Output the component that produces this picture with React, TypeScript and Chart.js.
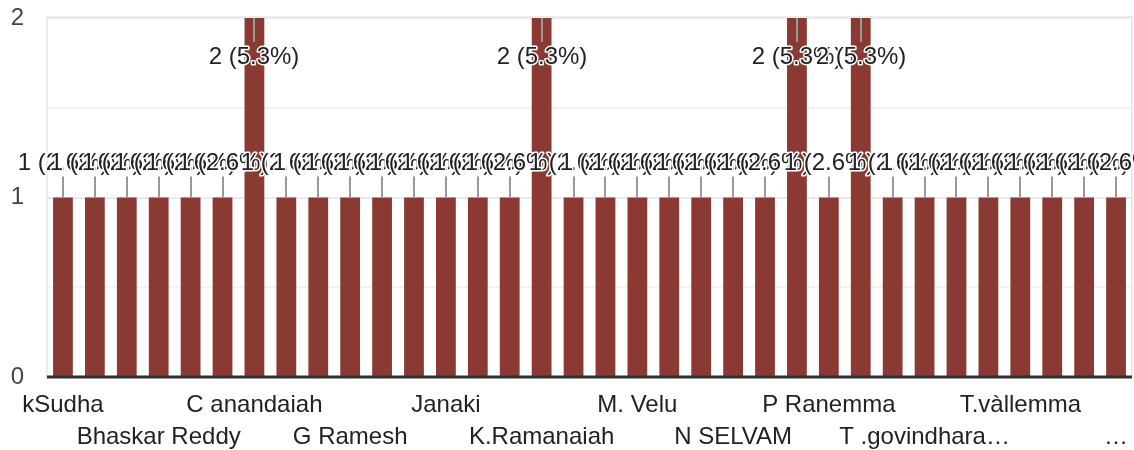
import React, { useEffect, useRef } from "react";
import { Chart, registerables } from "chart.js";

Chart.register(...registerables);

const categories: string[] = [
  "kSudha", "Anitha", "B. Lakshmi", "Bhaskar Reddy", "Bujjamma", "C Murali",
  "C anandaiah", "D Mani", "Devi", "G Ramesh", "Gowri", "Indira",
  "Janaki", "K Prasad", "K. Suresh", "K.Ramanaiah", "Lakshmamma", "M Ravi",
  "M. Velu", "Meena", "Munirathnam", "N SELVAM", "Nagaraju", "P Lalitha",
  "P Ranemma", "R Kumar", "S Padma", "T .govindhara…", "T Saroja", "T.Muni",
  "T.vàllemma", "V Ramana", "Vijaya", "…",
];

const values: number[] = [
  1, 1, 1, 1, 1, 1,
  2, 1, 1, 1, 1, 1,
  1, 1, 1, 2, 1, 1,
  1, 1, 1, 1, 1, 2,
  1, 2, 1, 1, 1, 1,
  1, 1, 1, 1,
];

const yTickValues: number[] = [0, 1, 2];

const BAR_COLOR = "#8a3a33";
const FONT = '"Liberation Sans", Arial, sans-serif';

const decorPlugin = {
  id: "decor",
  beforeDatasetsDraw(chart: any) {
    const { ctx, chartArea } = chart;
    ctx.save();
    ctx.strokeStyle = "#ebebeb";
    ctx.lineWidth = 2;
    ctx.strokeRect(chartArea.left, chartArea.top - 1, chartArea.right - chartArea.left, chartArea.bottom - chartArea.top + 1);
    ctx.restore();
  },
  afterDatasetsDraw(chart: any) {
    const { ctx, chartArea } = chart;
    const total = values.reduce((a, b) => a + b, 0);
    const meta = chart.getDatasetMeta(0);
    ctx.save();
    ctx.strokeStyle = "#333333";
    ctx.lineWidth = 3;
    ctx.beginPath();
    ctx.moveTo(chartArea.left, chartArea.bottom);
    ctx.lineTo(chartArea.right, chartArea.bottom);
    ctx.stroke();

    ctx.font = `24px ${FONT}`;
    ctx.textAlign = "center";
    ctx.textBaseline = "middle";
    ctx.lineJoin = "round";
    meta.data.forEach((bar: any, i: number) => {
      const v = values[i];
      const text = `${v} (${((v / total) * 100).toFixed(1)}%)`;
      const x = Math.round(bar.x);
      const top = bar.y;
      let stemEnd: number;
      let labelY: number;
      if (top - 45 < chartArea.top) {
        stemEnd = top + 24;
        labelY = top + 39;
      } else {
        stemEnd = top - 21;
        labelY = top - 34;
      }
      ctx.strokeStyle = "#999999";
      ctx.lineWidth = 2;
      ctx.beginPath();
      ctx.moveTo(x, top);
      ctx.lineTo(x, stemEnd);
      ctx.stroke();

      ctx.strokeStyle = "#ffffff";
      ctx.lineWidth = 3;
      ctx.strokeText(text, x, labelY);
      ctx.fillStyle = "#222222";
      ctx.fillText(text, x, labelY);
    });
    ctx.restore();
  },
};

export default function App() {
  const canvasRef = useRef<HTMLCanvasElement | null>(null);

  useEffect(() => {
    document.body.style.margin = "0";
    const canvas = canvasRef.current;
    if (!canvas) return;
    const chart = new Chart(canvas, {
      type: "bar",
      data: {
        labels: categories,
        datasets: [
          {
            data: values,
            backgroundColor: BAR_COLOR,
            borderWidth: 0,
            barPercentage: 0.62,
            categoryPercentage: 1,
          },
        ],
      },
      options: {
        animation: false,
        responsive: true,
        maintainAspectRatio: false,
        layout: { padding: { top: 18, right: 2, left: 0, bottom: 0 } },
        plugins: {
          legend: { display: false },
          tooltip: { enabled: false },
        },
        scales: {
          x: {
            grid: { display: false, drawTicks: false },
            border: { display: false },
            ticks: {
              autoSkip: false,
              maxRotation: 0,
              minRotation: 0,
              padding: 12,
              color: "#222222",
              font: { family: FONT, size: 24, lineHeight: 1.333 },
              callback: (_v: any, i: number) => {
                if (i % 3 !== 0) return "";
                const row = (i / 3) % 2;
                return row === 0 ? categories[i] : ["", categories[i]];
              },
            },
            afterFit: (scale: any) => {
              scale.height = 73;
              scale.paddingLeft = 0;
              scale.paddingRight = 0;
              scale.paddingTop = 0;
              scale.paddingBottom = 0;
            },
          },
          y: {
            min: 0,
            max: 2,
            grid: {
              drawTicks: false,
              lineWidth: 2,
              color: (c: any) =>
                c.tick && Number.isInteger(c.tick.value) ? "#ebebeb" : "#f4f4f4",
            },
            border: { display: false },
            ticks: {
              stepSize: 0.5,
              padding: 23,
              color: "#444444",
              font: { family: FONT, size: 24 },
              callback: (v: any) => (yTickValues.includes(Number(v)) ? String(v) : ""),
            },
            afterFit: (scale: any) => {
              scale.width = 47;
              scale.paddingLeft = 0;
              scale.paddingRight = 0;
              scale.paddingTop = 0;
              scale.paddingBottom = 0;
            },
          },
        },
      },
      plugins: [decorPlugin],
    });
    return () => chart.destroy();
  }, []);

  return (
    <div style={{ position: "relative", width: 1134, height: 450 }}>
      <canvas ref={canvasRef} />
    </div>
  );
}
